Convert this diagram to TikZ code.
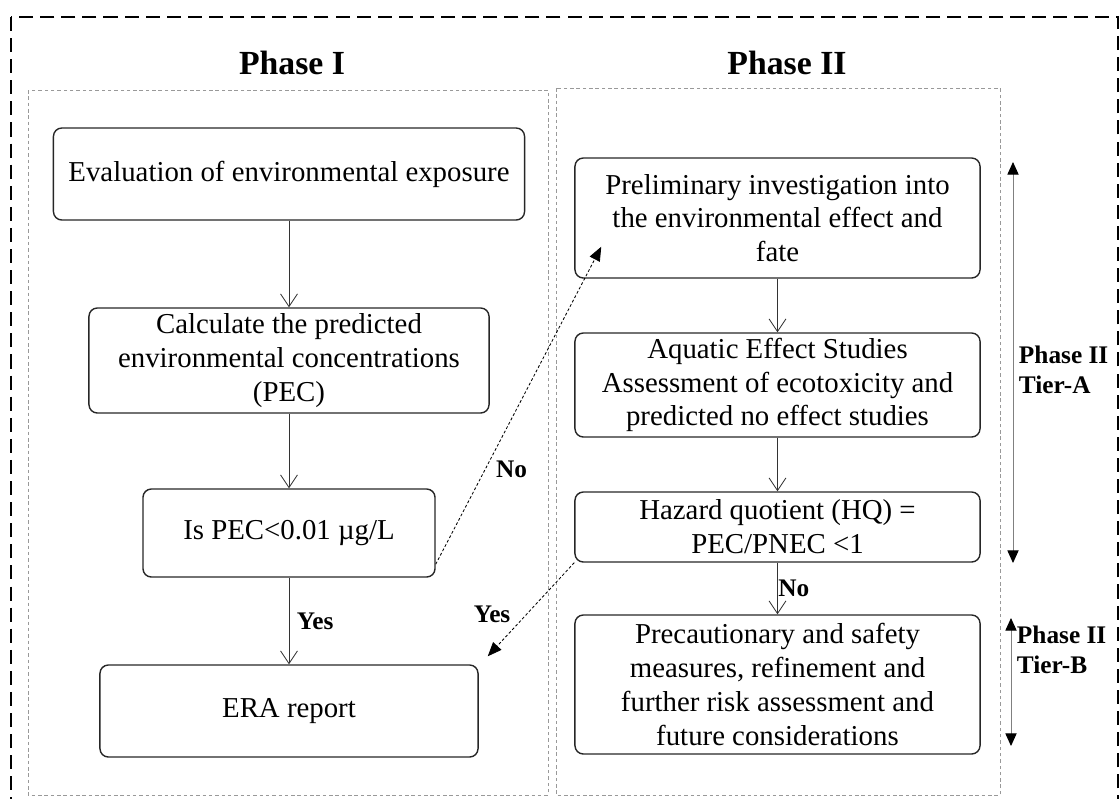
\documentclass[tikz,border=0pt]{standalone}
\usepackage{fontspec}
\setmainfont{Liberation Serif}
\usetikzlibrary{arrows.meta}
\begin{document}
\begin{tikzpicture}[x=0.025cm,y=-0.025cm,
  box/.style={draw=black!85,line width=1pt,rounded corners=6pt,align=center,inner sep=0pt,font=\fontsize{20.5}{24}\selectfont},
  arr/.style={draw=black!80,line width=0.6pt,-{Straight Barb[length=9pt,width=12pt]}},
  dasharr/.style={black,line width=0.6pt,dash pattern=on 2pt off 1.5pt,-{Triangle[length=10pt,width=8pt]}},
  lbl/.style={font=\fontsize{18}{21}\selectfont\bfseries},
  tier/.style={gray,line width=0.7pt,{Triangle[length=9pt,width=8pt,color=black]}-{Triangle[length=9pt,width=8pt,color=black]}},
  phasebox/.style={gray!80,line width=0.6pt,dash pattern=on 2.5pt off 2pt}]
\useasboundingbox (0,0) rectangle (1120,798);

\draw[line width=1pt,dash pattern=on 10pt off 5pt] (11,17) rectangle (1118,830);
\draw[phasebox] (28,90) rectangle (548,795);
\draw[phasebox] (556,88) rectangle (1000,795);

\node[font=\fontsize{24}{28}\selectfont\bfseries] (titleI) at (292,63) {Phase I};
\node[font=\fontsize{24}{28}\selectfont\bfseries] (titleII) at (787,63) {Phase II};

% Phase I
\node[box,minimum width=11.775cm,minimum height=2.3cm] (eval) at (289,174) {Evaluation of environmental exposure};
\node[box,minimum width=10cm,minimum height=2.625cm] (calc) at (289,360.5) {Calculate the predicted\\environmental concentrations\\(PEC)};
\node[box,minimum width=7.3cm,minimum height=2.2cm] (is) at (289,533) {Is PEC<0.01 µg/L};
\node[box,minimum width=9.45cm,minimum height=2.3cm] (era) at (289,711) {ERA report};

% Phase II
\node[box,minimum width=10.125cm,minimum height=3cm] (prelim) at (777.5,218) {Preliminary investigation into\\the environmental effect and\\fate};
\node[box,minimum width=10.125cm,minimum height=2.6cm] (aqua) at (777.5,385) {Aquatic Effect Studies\\Assessment of ecotoxicity and\\predicted no effect studies};
\node[box,minimum width=10.125cm,minimum height=1.75cm] (hq) at (777.5,527) {Hazard quotient (HQ) =\\PEC/PNEC <1};
\node[box,minimum width=10.125cm,minimum height=3.475cm] (prec) at (777.5,684.5) {Precautionary and safety\\measures, refinement and\\further risk assessment and\\future considerations};

\draw[arr] (eval) -- (calc);
\draw[arr] (calc) -- (is);
\draw[arr] (is) -- node[lbl,midway,right=2pt] {Yes} (era);
\draw[arr] (prelim) -- (aqua);
\draw[arr] (aqua) -- (hq);
\draw[arr] (hq) -- node[lbl,midway,right=-3pt] {No} (prec);

\draw[dasharr] (is.-12) -- node[lbl,pos=0.3,right=4pt] {No} ([shift={(27,-32)}]prelim.south west);
\draw[dasharr] (hq.south west) -- node[lbl,pos=0.55,left=8pt] {Yes} ([shift={(9,-8)}]era.north east);

% tiers
\draw[tier] (1013,162) -- (1013,563);
\draw[tier] (1011,618) -- (1011,746);
\node[lbl,align=left,anchor=west] (tierA) at (1014,370) {Phase II\\Tier-A};
\node[lbl,align=left,anchor=west] (tierB) at (1012,650) {Phase II\\Tier-B};
\end{tikzpicture}
\end{document}
